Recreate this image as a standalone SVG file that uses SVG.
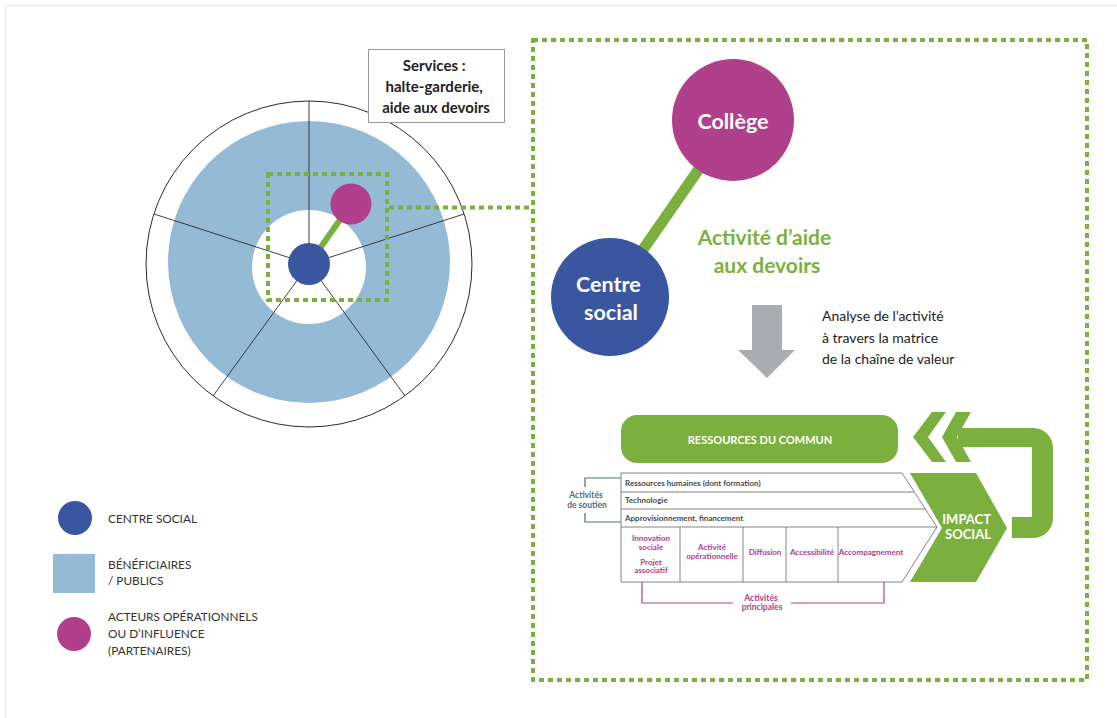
<svg xmlns="http://www.w3.org/2000/svg" width="1117" height="718" viewBox="0 0 1117 718">
<style>
  .f { font-family: Lato, "Liberation Sans", sans-serif; }
  .b { font-weight: bold; }
  .dash { fill: none; stroke: #7cb03e; stroke-width: 4; stroke-dasharray: 5 4; }
  .spoke { stroke: #2b2b2b; stroke-width: 0.9; }
  .cell { fill: #ffffff; stroke: #666; stroke-width: 0.8; }
  .row { font-size: 8px; fill: #4a4a4a; font-weight: bold; }
  .prim { font-size: 8px; fill: #b0408c; font-weight: bold; text-anchor: middle; }
  .leg { font-size: 11.8px; fill: #333; }
  .green { fill: #7cb03e; }
</style>
<rect width="1117" height="718" fill="#ffffff"/>
<path d="M5.5 718 V5.5 H1117" fill="none" stroke="#efeee6" stroke-width="1.5"/>

<g id="wheel">
  <circle cx="309" cy="264" r="163" fill="#ffffff" stroke="#2b2b2b" stroke-width="1"/>
  <circle cx="309" cy="262" r="141" fill="#95bad6"/>
  <circle cx="309" cy="267" r="57" fill="#ffffff"/>
  <line class="spoke" x1="309" y1="264" x2="309" y2="101"/>
  <line class="spoke" x1="309" y1="264" x2="464" y2="214"/>
  <line class="spoke" x1="309" y1="264" x2="405" y2="396"/>
  <line class="spoke" x1="309" y1="264" x2="213" y2="396"/>
  <line class="spoke" x1="309" y1="264" x2="154" y2="214"/>
  <line x1="309" y1="264" x2="351" y2="204" stroke="#7cb03e" stroke-width="6"/>
  <circle cx="309" cy="264" r="21" fill="#3a56a0"/>
  <circle cx="351" cy="204" r="20.5" fill="#b0408c"/>
  <rect class="dash" x="268" y="174" width="119" height="126"/>
</g>

<g id="services">
  <rect x="368.5" y="49.5" width="136" height="73" fill="#ffffff" stroke="#999" stroke-width="1"/>
  <text class="f b" font-size="15" fill="#222" text-anchor="middle">
    <tspan x="436" y="71">Services :</tspan>
    <tspan x="436" y="92">halte-garderie,</tspan>
    <tspan x="436" y="113">aide aux devoirs</tspan>
  </text>
</g>

<g id="connectors">
  <line class="dash" x1="389" y1="207.5" x2="532" y2="207.5"/>
  <line x1="610" y1="297" x2="733" y2="120" stroke="#7cb03e" stroke-width="11"/>
</g>

<g id="zoom-frame">
  <rect class="dash" x="533" y="40" width="554" height="640"/>
</g>

<g id="college">
  <circle cx="733" cy="120" r="61" fill="#b0408c"/>
  <text class="f b" x="733" y="129" font-size="21.5" fill="#ffffff" text-anchor="middle">Collège</text>
</g>

<g id="centre-social">
  <circle cx="610" cy="297" r="59" fill="#3a56a0"/>
  <text class="f b" font-size="21.5" fill="#ffffff" text-anchor="middle">
    <tspan x="611" y="292">Centre</tspan>
    <tspan x="611" y="320">social</tspan>
  </text>
</g>

<g id="activite-label">
  <text class="f b" font-size="21" fill="#7cb03e" text-anchor="middle">
    <tspan x="767" y="245">Activité d’aide</tspan>
    <tspan x="767" y="273">aux devoirs</tspan>
  </text>
</g>

<g id="analyse-arrow">
  <polygon points="752,305 782,305 782,350 795,350 767,378 738,350 752,350" fill="#a8adb1"/>
  <text class="f" font-size="14" fill="#222">
    <tspan x="822" y="321">Analyse de l’activité</tspan>
    <tspan x="822" y="343">à travers la matrice</tspan>
    <tspan x="822" y="364">de la chaîne de valeur</tspan>
  </text>
</g>

<g id="ressources-commun">
  <rect x="621" y="415" width="277" height="48" rx="16" class="green"/>
  <text class="f b" x="760" y="444" font-size="11" fill="#ffffff" text-anchor="middle">RESSOURCES DU COMMUN</text>
</g>

<g id="retour-arrow">
  <path class="green" d="M958 428 H1033 A20 20 0 0 1 1053 448 V518 A20 20 0 0 1 1033 538 H1012 V517 H1032 V447 H958 Z"/>
  <polygon class="green" points="913,437 932,412 946,412 928,437 946,462 932,462"/>
  <polygon class="green" points="942,437 956,412 971,412 957,437 971,462 956,462"/>
</g>

<g id="impact-social">
  <polygon class="green" points="910,473 976,473 1007,528 976,582 910,582 942,528"/>
  <text class="f b" font-size="13" fill="#ffffff" text-anchor="middle">
    <tspan x="968" y="524">IMPACT</tspan>
    <tspan x="968" y="539">SOCIAL</tspan>
  </text>
</g>

<g id="chaine-valeur">
  <polygon class="cell" points="621,473 902,473 937,527 902,582 621,582"/>
  <line x1="621" y1="492" x2="914" y2="492" stroke="#666" stroke-width="0.8"/>
  <line x1="621" y1="509" x2="925" y2="509" stroke="#666" stroke-width="0.8"/>
  <line x1="621" y1="527" x2="937" y2="527" stroke="#666" stroke-width="0.8"/>
  <line x1="680" y1="527" x2="680" y2="582" stroke="#666" stroke-width="0.8"/>
  <line x1="743" y1="527" x2="743" y2="582" stroke="#666" stroke-width="0.8"/>
  <line x1="786" y1="527" x2="786" y2="582" stroke="#666" stroke-width="0.8"/>
  <line x1="838" y1="527" x2="838" y2="582" stroke="#666" stroke-width="0.8"/>
  <text class="f row" x="625" y="486">Ressources humaines (dont formation)</text>
  <text class="f row" x="625" y="503">Technologie</text>
  <text class="f row" x="625" y="521">Approvisionnement, financement</text>
  <text class="f prim"><tspan x="651" y="541">Innovation</tspan><tspan x="651" y="550">sociale</tspan><tspan x="651" y="565">Projet</tspan><tspan x="651" y="573">associatif</tspan></text>
  <text class="f prim"><tspan x="712" y="550">Activité</tspan><tspan x="712" y="559">opérationnelle</tspan></text>
  <text class="f prim" x="765" y="555">Diffusion</text>
  <text class="f prim" x="812" y="555">Accessibilité</text>
  <text class="f prim" x="871" y="555">Accompagnement</text>
</g>

<g id="activites-soutien">
  <path d="M621 478 H585 V487 M585 513 V522 H621" fill="none" stroke="#4d6a7e" stroke-width="1.2"/>
  <text class="f" font-size="8.5" fill="#4d6a7e" font-weight="bold" text-anchor="middle">
    <tspan x="587" y="498">Activités</tspan>
    <tspan x="587" y="508">de soutien</tspan>
  </text>
</g>

<g id="activites-principales">
  <path d="M642 582 V603 H733 M791 603 H884 V582" fill="none" stroke="#b0408c" stroke-width="1.2"/>
  <text class="f" font-size="8.5" fill="#b0408c" font-weight="bold" text-anchor="middle">
    <tspan x="762" y="601">Activités</tspan>
    <tspan x="762" y="610">principales</tspan>
  </text>
</g>

<g id="legend">
  <circle cx="75" cy="518" r="17" fill="#3a56a0"/>
  <text class="f leg" x="108" y="523">CENTRE SOCIAL</text>
  <rect x="53" y="554" width="42" height="39" fill="#95bad6"/>
  <text class="f leg"><tspan x="108" y="569">BÉNÉFICIAIRES</tspan><tspan x="108" y="585">/ PUBLICS</tspan></text>
  <circle cx="74" cy="634" r="17" fill="#b0408c"/>
  <text class="f leg"><tspan x="108" y="621">ACTEURS OPÉRATIONNELS</tspan><tspan x="108" y="638">OU D’INFLUENCE</tspan><tspan x="108" y="655">(PARTENAIRES)</tspan></text>
</g>
</svg>
